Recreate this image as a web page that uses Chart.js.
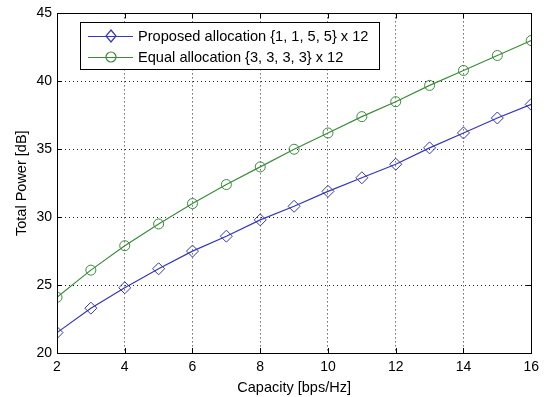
<!DOCTYPE html>
<html>
<head>
<meta charset="utf-8">
<script src="https://cdn.jsdelivr.net/npm/chart.js@4.4.0/dist/chart.umd.min.js"></script>
<style>
  html, body { margin: 0; padding: 0; background: #fff; }
  #wrap { width: 545px; height: 397px; }
</style>
</head>
<body>
<div id="wrap"><canvas id="power"></canvas></div>
<script>
// capacity in bps/Hz
var capacity = [2, 3, 4, 5, 6, 7, 8, 9, 10, 11, 12, 13, 14, 15, 16];
var proposedPower = [21.5, 23.3, 24.8, 26.2, 27.5, 28.6, 29.8, 30.8, 31.9, 32.9, 33.9, 35.1, 36.2, 37.3, 38.3];
var equalPower = [24.1, 26.1, 27.9, 29.5, 31.0, 32.4, 33.7, 35.0, 36.2, 37.4, 38.5, 39.7, 40.8, 41.9, 43.0];
var xTicks = [2, 4, 6, 8, 10, 12, 14, 16];
var yTicks = [20, 25, 30, 35, 40, 45];
var seriesNames = ['Proposed allocation {1, 1, 5, 5} x 12', 'Equal allocation {3, 3, 3, 3} x 12'];

var blue = '#3535c0';
var green = '#3a8c3a';
var fontName = "'Liberation Sans', Arial, sans-serif";

function toPoints(xs, ys) {
    return xs.map(function(x, i) { return {x: x, y: ys[i]}; });
}

function legendMarker(ctx, style, x, y) {
    ctx.beginPath();
    if (style === 'rectRot') {
        ctx.moveTo(x, y - 6); ctx.lineTo(x + 5, y); ctx.lineTo(x, y + 6); ctx.lineTo(x - 5, y);
        ctx.closePath();
    } else {
        ctx.arc(x, y, 5, 0, Math.PI * 2);
    }
    ctx.stroke();
}

// box round the axes, matlab style ticks inside, legend in top left
var matlabBox = {
    id: 'matlabBox',
    afterDraw: function(chart) {
        var ctx = chart.ctx;
        var a = chart.chartArea;
        var xs = chart.scales.x, ys = chart.scales.y;
        ctx.save();
        ctx.strokeStyle = '#000';
        ctx.lineWidth = 1;
        ctx.setLineDash([]);
        ctx.strokeRect(Math.round(a.left) + 0.5, Math.round(a.top) + 0.5,
            Math.round(a.right - a.left), Math.round(a.bottom - a.top));
        var t = 5;
        ctx.beginPath();
        xTicks.forEach(function(v) {
            var px = Math.round(xs.getPixelForValue(v)) + 0.5;
            ctx.moveTo(px, a.bottom); ctx.lineTo(px, a.bottom - t);
            ctx.moveTo(px, a.top); ctx.lineTo(px, a.top + t);
        });
        yTicks.forEach(function(v) {
            var py = Math.round(ys.getPixelForValue(v)) + 0.5;
            ctx.moveTo(a.left, py); ctx.lineTo(a.left + t, py);
            ctx.moveTo(a.right, py); ctx.lineTo(a.right - t, py);
        });
        ctx.stroke();

        // legend
        var lx = Math.round(a.left) + 23, ly = Math.round(a.top) + 9, lw = 299, lh = 47;
        ctx.fillStyle = '#fff';
        ctx.fillRect(lx, ly, lw, lh);
        ctx.strokeRect(lx + 0.5, ly + 0.5, lw, lh);
        ctx.font = '14.6px ' + fontName;
        ctx.textBaseline = 'middle';
        chart.data.datasets.forEach(function(ds, i) {
            var cy = ly + 14 + i * 21;
            ctx.strokeStyle = ds.borderColor;
            ctx.lineWidth = 1.2;
            ctx.beginPath();
            ctx.moveTo(lx + 8, cy + 0.5);
            ctx.lineTo(lx + 53, cy + 0.5);
            ctx.stroke();
            legendMarker(ctx, ds.pointStyle, lx + 31, cy);
            ctx.fillStyle = '#000';
            ctx.fillText(ds.label, lx + 58, cy + 1);
        });
        ctx.restore();
    }
};

new Chart(document.getElementById('power').getContext('2d'), {
    type: 'line',
    data: {
        datasets: [{
            label: seriesNames[0],
            data: toPoints(capacity, proposedPower),
            borderColor: blue,
            backgroundColor: 'rgba(0,0,0,0)',
            borderWidth: 1.2,
            pointStyle: 'rectRot',
            pointRadius: 6,
            pointBorderWidth: 1,
            tension: 0
        }, {
            label: seriesNames[1],
            data: toPoints(capacity, equalPower),
            borderColor: green,
            backgroundColor: 'rgba(0,0,0,0)',
            borderWidth: 1.2,
            pointStyle: 'circle',
            pointRadius: 5,
            pointBorderWidth: 1,
            tension: 0
        }]
    },
    options: {
        responsive: true,
        maintainAspectRatio: false,
        animation: false,
        layout: { padding: { left: 0, top: 11, right: 13, bottom: 0 } },
        plugins: {
            legend: { display: false },
            tooltip: { enabled: false }
        },
        scales: {
            x: {
                type: 'linear',
                min: 2,
                max: 16,
                afterBuildTicks: function(scale) {
                    scale.ticks = xTicks.map(function(v) { return {value: v}; });
                },
                afterFit: function(scale) { scale.height = 44; },
                grid: { color: '#222', lineWidth: 1, drawTicks: false },
                border: { display: false, dash: [1, 3] },
                ticks: { color: '#000', padding: 6, maxRotation: 0, font: { family: fontName, size: 14 } },
                title: { display: true, text: 'Capacity [bps/Hz]', color: '#000',
                    padding: { top: 0, bottom: 0 }, font: { family: fontName, size: 14.5 } }
            },
            y: {
                min: 20,
                max: 45,
                afterBuildTicks: function(scale) {
                    scale.ticks = yTicks.map(function(v) { return {value: v}; });
                },
                afterFit: function(scale) { scale.width = 57; },
                grid: { color: '#222', lineWidth: 1, drawTicks: false },
                border: { display: false, dash: [1, 3] },
                ticks: { color: '#000', padding: 5, font: { family: fontName, size: 14 } },
                title: { display: true, text: 'Total Power [dB]', color: '#000',
                    padding: { top: 13, bottom: 0 }, font: { family: fontName, size: 14.5 } }
            }
        }
    },
    plugins: [matlabBox]
});
</script>
</body>
</html>
